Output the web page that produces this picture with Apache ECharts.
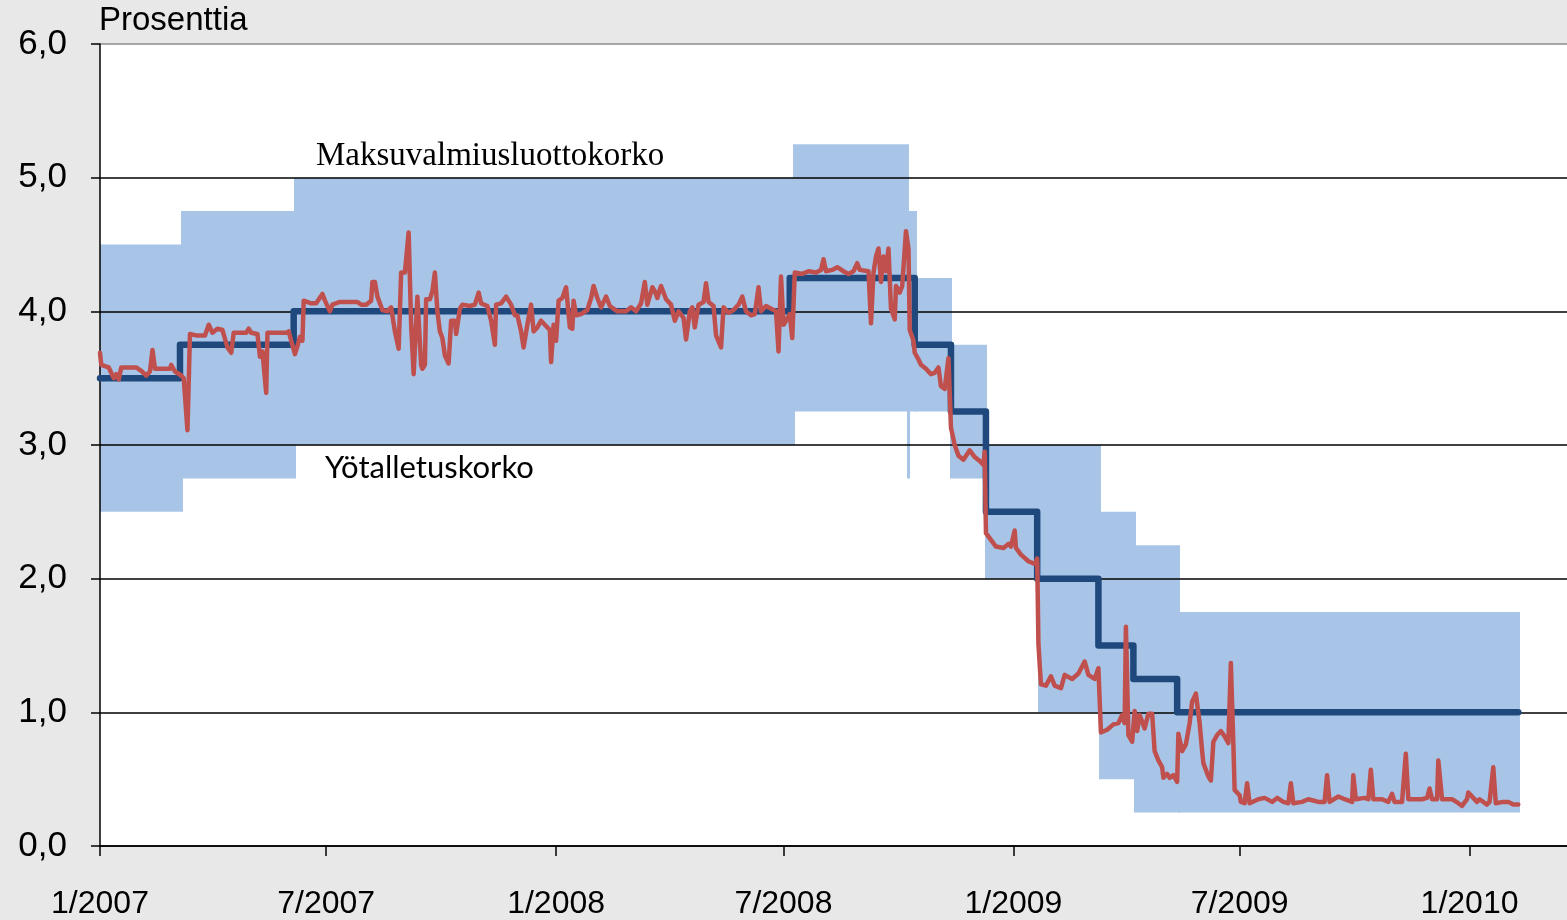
<!DOCTYPE html>
<html><head><meta charset="utf-8">
<script src="https://cdn.jsdelivr.net/npm/echarts@6/dist/echarts.min.js"></script>
<style>html,body{margin:0;padding:0;background:#e8e8e8}#c{width:1567px;height:920px}</style>
</head><body><div id="c"></div>
<script>
// ---- axis ticks ----
const tickDates = ['2007-01-01','2007-07-01','2008-01-01','2008-07-01','2009-01-01','2009-07-01','2010-01-01'];
const tickLabels = ['1/2007','7/2007','1/2008','7/2008','1/2009','7/2009','1/2010'];

// ---- ECB standing facilities corridor (step values at change dates) ----
const corridorDates = ['2007-01-01','2007-03-07','2007-06-06','2008-07-09','2008-10-08','2008-10-09','2008-10-15','2008-11-12','2008-12-10','2009-01-21','2009-03-11','2009-04-08','2009-05-13','2010-02-09'];
const lendingRate  = [4.50,4.75,5.00,5.25,4.75,4.75,4.25,3.75,3.00,3.00,2.50,2.25,1.75,1.75];
const depositRate  = [2.50,2.75,3.00,3.25,2.75,3.25,3.25,2.75,2.00,1.00,0.50,0.25,0.25,0.25];

// ---- main refinancing rate ----
const mroDates = ['2007-01-01','2007-03-06','2007-06-05','2008-07-06','2008-10-14','2008-11-12','2008-12-10','2009-01-20','2009-03-10','2009-04-07','2009-05-12','2010-02-09'];
const mroRate  = [3.50,3.75,4.00,4.25,3.75,3.25,2.50,2.00,1.50,1.25,1.00,1.00];

// ---- EONIA ----
const eonia = [
['2007-01-01',3.69],['2007-01-02',3.60],['2007-01-08',3.58],['2007-01-12',3.50],['2007-01-14',3.53],['2007-01-16',3.49],['2007-01-18',3.58],['2007-01-30',3.58],
['2007-02-03',3.555],['2007-02-07',3.52],['2007-02-10',3.55],['2007-02-12',3.71],['2007-02-14',3.57],['2007-02-26',3.57],['2007-02-27',3.60],
['2007-03-02',3.55],['2007-03-07',3.52],['2007-03-09',3.50],['2007-03-12',3.11],['2007-03-14',3.83],['2007-03-19',3.82],['2007-03-26',3.82],['2007-03-29',3.90],
['2007-04-01',3.84],['2007-04-05',3.87],['2007-04-09',3.86],['2007-04-13',3.73],['2007-04-16',3.69],['2007-04-18',3.84],['2007-04-28',3.84],['2007-04-30',3.87],
['2007-05-02',3.84],['2007-05-07',3.83],['2007-05-09',3.66],['2007-05-11',3.70],['2007-05-14',3.39],['2007-05-15',3.84],['2007-05-30',3.84],
['2007-06-01',3.85],['2007-06-03',3.78],['2007-06-06',3.68],['2007-06-08',3.74],['2007-06-10',3.81],['2007-06-12',3.78],['2007-06-13',4.08],['2007-06-19',4.06],['2007-06-23',4.06],['2007-06-28',4.13],['2007-06-30',4.08],
['2007-07-04',4.00],['2007-07-06',4.05],['2007-07-12',4.07],['2007-07-26',4.07],['2007-07-29',4.05],
['2007-08-02',4.05],['2007-08-06',4.08],['2007-08-07',4.22],['2007-08-09',4.22],['2007-08-11',4.11],['2007-08-15',4.01],['2007-08-19',4.00],['2007-08-22',4.03],['2007-08-25',3.85],['2007-08-28',3.72],['2007-08-30',4.29],
['2007-09-02',4.29],['2007-09-05',4.59],['2007-09-07',3.90],['2007-09-09',3.53],['2007-09-12',4.11],['2007-09-15',3.60],['2007-09-16',3.57],['2007-09-18',3.60],['2007-09-19',4.09],['2007-09-22',4.09],['2007-09-24',4.15],['2007-09-26',4.29],['2007-09-28',4.00],['2007-09-30',3.85],
['2007-10-02',3.80],['2007-10-04',3.67],['2007-10-07',3.61],['2007-10-09',3.93],['2007-10-12',3.93],['2007-10-13',3.83],['2007-10-16',4.02],['2007-10-18',4.05],['2007-10-24',4.04],['2007-10-28',4.05],['2007-10-31',4.14],
['2007-11-02',4.06],['2007-11-07',4.04],['2007-11-10',3.93],['2007-11-13',3.75],['2007-11-14',4.05],['2007-11-18',4.06],['2007-11-22',4.11],['2007-11-26',4.05],['2007-11-29',3.97],
['2007-12-01',3.97],['2007-12-04',3.85],['2007-12-06',3.73],['2007-12-09',3.90],['2007-12-12',4.05],['2007-12-14',3.85],['2007-12-17',3.88],['2007-12-20',3.93],['2007-12-23',3.90],['2007-12-27',3.86],['2007-12-28',3.62],['2007-12-30',3.90],
['2008-01-01',3.78],['2008-01-03',4.08],['2008-01-06',4.10],['2008-01-09',4.18],['2008-01-12',3.88],['2008-01-14',3.87],['2008-01-15',4.08],['2008-01-17',3.97],['2008-01-21',3.98],['2008-01-26',4.01],['2008-01-29',4.10],['2008-01-31',4.19],
['2008-02-03',4.10],['2008-02-06',4.03],['2008-02-10',4.11],['2008-02-13',4.04],['2008-02-19',4.00],['2008-02-26',4.00],
['2008-03-01',4.03],['2008-03-05',4.00],['2008-03-09',4.06],['2008-03-12',4.22],['2008-03-14',4.05],['2008-03-18',4.18],['2008-03-20',4.15],['2008-03-22',4.10],['2008-03-25',4.19],['2008-03-29',4.09],
['2008-04-02',4.05],['2008-04-05',3.93],['2008-04-08',4.00],['2008-04-12',3.95],['2008-04-14',3.79],['2008-04-17',4.00],['2008-04-19',4.03],['2008-04-21',3.88],['2008-04-24',4.05],['2008-04-28',4.07],['2008-04-30',4.21],
['2008-05-02',4.07],['2008-05-06',4.04],['2008-05-08',3.82],['2008-05-12',3.73],['2008-05-14',4.03],['2008-05-18',3.99],['2008-05-22',4.01],['2008-05-26',4.05],['2008-05-29',4.11],
['2008-06-01',4.00],['2008-06-05',3.97],['2008-06-08',3.98],['2008-06-11',4.18],['2008-06-13',4.00],['2008-06-17',4.04],['2008-06-23',4.01],['2008-06-25',4.00],['2008-06-27',3.70],['2008-06-29',4.26],
['2008-07-01',3.90],['2008-07-03',3.93],['2008-07-06',3.98],['2008-07-08',3.80],['2008-07-10',4.29],['2008-07-16',4.28],['2008-07-21',4.30],['2008-07-27',4.29],['2008-07-31',4.31],
['2008-08-02',4.39],['2008-08-04',4.30],['2008-08-09',4.31],['2008-08-13',4.33],['2008-08-18',4.30],['2008-08-22',4.28],['2008-08-26',4.30],['2008-08-29',4.36],['2008-08-31',4.31],
['2008-09-07',4.30],['2008-09-09',3.91],['2008-09-11',4.29],['2008-09-13',4.41],['2008-09-15',4.47],['2008-09-17',4.22],['2008-09-19',4.41],['2008-09-21',4.30],['2008-09-23',4.47],['2008-09-25',4.02],['2008-09-28',3.94],['2008-09-29',4.19],
['2008-10-02',4.14],['2008-10-04',4.19],['2008-10-07',4.60],['2008-10-09',4.47],['2008-10-10',3.86],['2008-10-13',3.78],['2008-10-14',3.69],['2008-10-17',3.64],['2008-10-19',3.60],['2008-10-23',3.57],['2008-10-27',3.53],['2008-10-30',3.54],
['2008-11-02',3.58],['2008-11-04',3.44],['2008-11-07',3.42],['2008-11-10',3.65],['2008-11-12',3.13],['2008-11-15',3.00],['2008-11-18',2.92],['2008-11-22',2.89],['2008-11-27',2.96],
['2008-12-01',2.91],['2008-12-05',2.88],['2008-12-08',2.85],['2008-12-09',2.95],['2008-12-10',2.34],['2008-12-14',2.29],['2008-12-18',2.24],['2008-12-24',2.23],['2008-12-28',2.26],['2008-12-30',2.24],
['2009-01-02',2.36],['2009-01-03',2.23],['2009-01-07',2.18],['2009-01-13',2.13],['2009-01-18',2.11],['2009-01-20',2.15],['2009-01-21',1.51],['2009-01-23',1.21],['2009-01-27',1.20],['2009-01-31',1.27],
['2009-02-03',1.20],['2009-02-08',1.18],['2009-02-11',1.28],['2009-02-17',1.25],['2009-02-22',1.29],['2009-02-27',1.38],
['2009-03-02',1.28],['2009-03-07',1.25],['2009-03-10',1.33],['2009-03-12',0.85],['2009-03-17',0.87],['2009-03-22',0.91],['2009-03-26',0.92],['2009-03-29',0.98],['2009-03-31',0.92],
['2009-04-01',1.64],['2009-04-03',0.83],['2009-04-06',0.78],['2009-04-08',1.01],['2009-04-10',0.86],['2009-04-12',0.98],['2009-04-16',0.88],['2009-04-19',0.99],['2009-04-22',0.99],['2009-04-24',0.71],['2009-04-27',0.64],['2009-04-30',0.59],
['2009-05-01',0.51],['2009-05-04',0.54],['2009-05-06',0.51],['2009-05-09',0.53],['2009-05-12',0.48],['2009-05-13',0.84],['2009-05-16',0.71],['2009-05-19',0.76],['2009-05-22',0.92],['2009-05-24',1.08],['2009-05-27',1.14],['2009-05-30',0.92],
['2009-06-01',0.71],['2009-06-02',0.62],['2009-06-06',0.52],['2009-06-08',0.49],['2009-06-10',0.78],['2009-06-13',0.83],['2009-06-16',0.86],['2009-06-19',0.82],['2009-06-22',0.77],['2009-06-24',1.37],['2009-06-26',0.76],['2009-06-27',0.42],
['2009-07-01',0.38],['2009-07-02',0.33],['2009-07-05',0.32],['2009-07-07',0.47],['2009-07-09',0.32],['2009-07-16',0.35],['2009-07-21',0.36],['2009-07-27',0.33],['2009-07-31',0.36],
['2009-08-05',0.33],['2009-08-09',0.32],['2009-08-11',0.47],['2009-08-13',0.32],['2009-08-20',0.33],['2009-08-25',0.35],
['2009-09-02',0.33],['2009-09-07',0.33],['2009-09-09',0.53],['2009-09-11',0.33],['2009-09-18',0.37],['2009-09-23',0.35],['2009-09-29',0.33],['2009-09-30',0.53],
['2009-10-02',0.35],['2009-10-09',0.36],['2009-10-12',0.35],['2009-10-14',0.57],['2009-10-16',0.35],['2009-10-23',0.35],['2009-10-28',0.33],['2009-10-31',0.39],
['2009-11-02',0.33],['2009-11-08',0.33],['2009-11-11',0.69],['2009-11-13',0.35],['2009-11-24',0.35],['2009-11-28',0.36],['2009-11-30',0.43],
['2009-12-02',0.35],['2009-12-06',0.35],['2009-12-07',0.64],['2009-12-10',0.35],['2009-12-18',0.35],['2009-12-23',0.32],['2009-12-26',0.30],['2009-12-30',0.35],['2009-12-31',0.40],
['2010-01-04',0.36],['2010-01-07',0.33],['2010-01-09',0.35],['2010-01-15',0.31],['2010-01-17',0.33],['2010-01-20',0.59],['2010-01-22',0.32],['2010-01-28',0.33],
['2010-02-01',0.33],['2010-02-05',0.31],['2010-02-09',0.31]
];

const axisMin = '2007-01-01';
const axisMax = '2010-03-20';

// ---- build (dates -> timestamps for a numeric axis) ----
const pd = s => echarts.number.parseDate(s).getTime();
const tickTimes = tickDates.map(pd);
// corridor intervals: [start, end, deposit, lending]
const corridor = [];
for (let i = 0; i < corridorDates.length - 1; i++) {
  corridor.push([pd(corridorDates[i]), pd(corridorDates[i + 1]), depositRate[i], lendingRate[i]]);
}
const mro = mroDates.map((d, i) => [pd(d), mroRate[i]]);
const eoniaData = eonia.map(p => [pd(p[0]), p[1]]);

const chart = echarts.init(document.getElementById('c'), null, {renderer: 'canvas'});
const gridColors = ['#000','#000','#000','#000','#000','#000','#8c8c8c'];
const sans = "'Liberation Sans',Arial,sans-serif";
chart.setOption({
  animation: false,
  backgroundColor: '#e8e8e8',
  grid: {left: 100, right: 0, top: 44, bottom: 72, show: true, backgroundColor: '#ffffff', borderWidth: 0},
  xAxis: {
    type: 'value', min: pd(axisMin), max: pd(axisMax), scale: true,
    axisLine: {show: true, onZero: false, lineStyle: {color: '#000', width: 1.5}},
    axisTick: {show: true, length: 10, inside: false, lineStyle: {color: '#000', width: 1.5}, customValues: tickTimes},
    axisLabel: {
      customValues: tickTimes, margin: 42, color: '#000', fontSize: 32, showMinLabel: true, showMaxLabel: true,
      fontFamily: sans,
      formatter: function (v) {
        for (let i = 0; i < tickTimes.length; i++) if (Math.abs(tickTimes[i] - v) < 43200000) return tickLabels[i];
        return '';
      }
    },
    splitLine: {show: false}
  },
  yAxis: {
    type: 'value', min: 0, max: 6, interval: 1, z: 2,
    axisLine: {show: true, lineStyle: {color: '#000', width: 1.5}},
    axisTick: {show: true, length: 9, lineStyle: {color: '#000', width: 1.5}},
    axisLabel: {margin: 33, color: '#000', fontSize: 35, fontFamily: sans,
      formatter: v => v.toFixed(1).replace('.', ',')},
    splitLine: {show: true, lineStyle: {color: gridColors, width: 1.5}}
  },
  graphic: [
    {type: 'text', left: 99, top: 4, z: 10, style: {text: 'Prosenttia', fontSize: 33, fontFamily: sans, fill: '#000'}},
    {type: 'text', x: 316, y: 156, z: 10, style: {text: 'Maksuvalmiusluottokorko', fontSize: 33, fontFamily: "'Liberation Serif','Times New Roman',serif", fill: '#000', verticalAlign: 'middle', align: 'left'}},
    {type: 'text', x: 325, y: 468, z: 10, style: {text: 'Yötalletuskorko', fontSize: 31, fontFamily: "Lato,'Open Sans',sans-serif", fill: '#000', verticalAlign: 'middle', align: 'left'}}
  ],
  series: [
    {name: 'Korkokäytävä', type: 'custom', data: corridor, z: 1, silent: true,
      encode: {x: [0, 1], y: [2, 3]},
      renderItem: function (params, api) {
        const a = api.coord([api.value(0), api.value(3)]);
        const b = api.coord([api.value(1), api.value(2)]);
        return {type: 'rect', shape: {x: Math.floor(a[0]), y: a[1], width: Math.ceil(b[0]) - Math.floor(a[0]) + 1, height: b[1] - a[1]},
          style: {fill: '#a8c5e8'}};
      }},
    {name: 'Perusrahoitusoperaatioiden korko', type: 'line', step: 'end', data: mro, symbol: 'none', z: 3,
      lineStyle: {color: '#1f497d', width: 6.5, cap: 'round', join: 'round'}},
    {name: 'Eonia', type: 'line', data: eoniaData, symbol: 'none', z: 4,
      lineStyle: {color: '#c0504d', width: 4.5, cap: 'round', join: 'round'}}
  ]
});
</script>
</body></html>
